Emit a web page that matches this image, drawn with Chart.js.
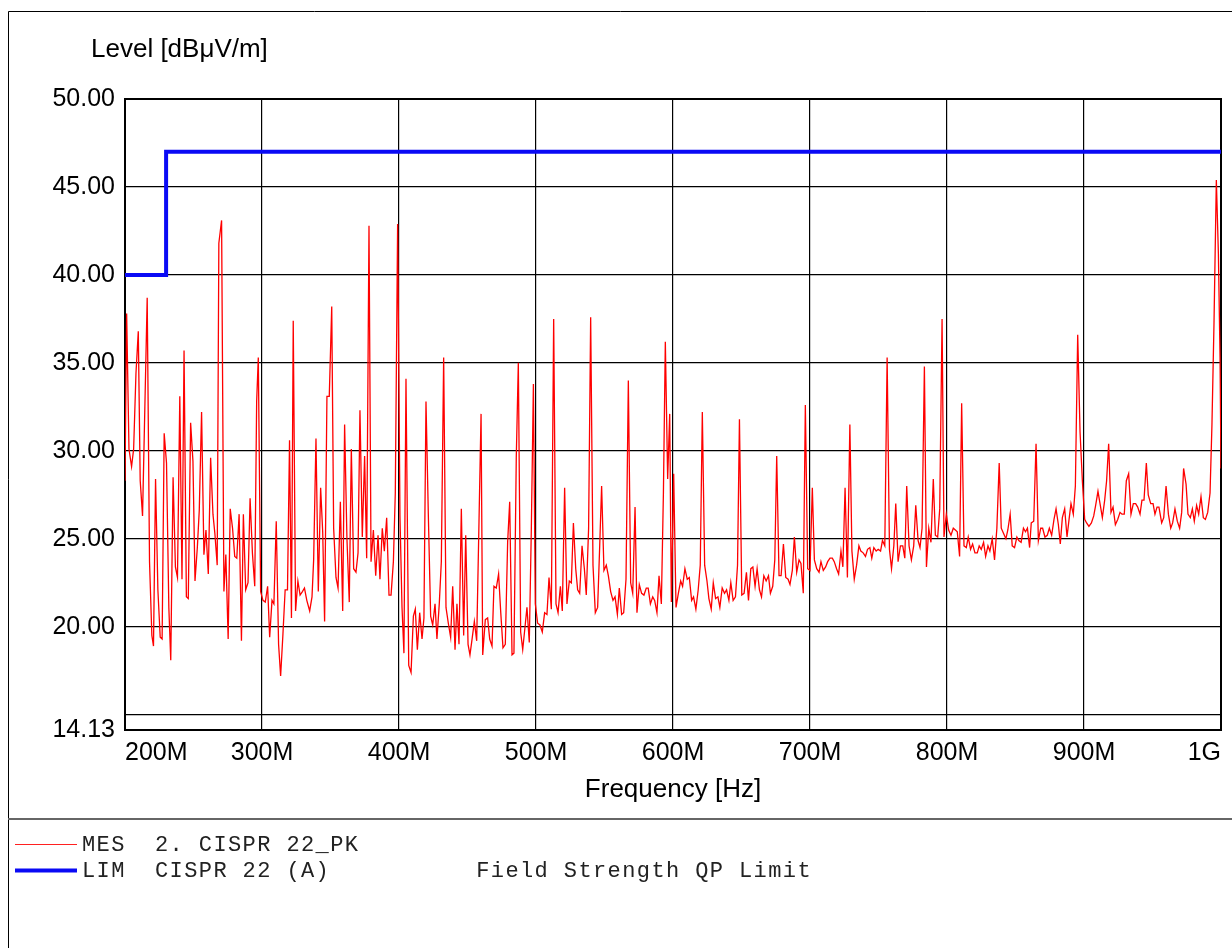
<!DOCTYPE html>
<html>
<head>
<meta charset="utf-8">
<script src="https://cdn.jsdelivr.net/npm/chart.js@4/dist/chart.umd.min.js"></script>
<style>
  html, body { margin: 0; padding: 0; background: #fff; }
  canvas { display: block; }
</style>
</head>
<body>
<canvas id="emc" width="1232" height="948"></canvas>
<script>
// measured trace (MES 2. CISPR 22_PK), MHz / dBuV/m
const freqMHz = [
  200.0,201.2,202.9,204.8,206.3,208.0,209.7,211.1,212.8,214.5,216.2,217.9,219.6,220.8,222.3,224.0,225.7,227.1,228.6,230.3,
  232.0,233.4,235.1,236.8,238.3,240.0,241.6,243.1,244.8,246.2,247.9,249.6,251.1,252.8,254.2,255.9,257.6,259.1,260.8,262.5,
  264.2,265.6,267.3,268.5,270.5,272.2,273.6,275.3,276.8,278.5,280.1,281.6,283.3,285.0,286.4,288.1,289.8,291.3,293.0,294.7,
  296.1,297.3,299.0,300.7,302.4,304.1,305.6,307.3,308.7,310.4,312.1,313.6,315.3,316.9,318.6,320.1,321.5,322.8,324.5,326.2,
  327.8,329.5,331.0,332.7,334.8,336.5,337.7,339.4,341.1,342.8,344.3,345.7,347.4,349.1,350.9,352.3,354.0,355.5,357.2,358.9,
  360.3,362.0,363.7,365.2,366.9,368.6,370.1,371.5,373.2,374.9,376.4,378.1,379.6,381.3,383.0,384.7,386.1,387.8,389.3,391.0,
  392.7,394.2,395.9,397.3,399.0,400.7,402.2,403.6,405.1,407.1,408.8,410.5,411.9,413.4,415.1,416.8,418.2,419.7,421.4,423.1,
  424.6,426.3,427.7,429.4,430.9,432.6,434.3,436.0,437.7,439.2,440.9,442.3,443.8,445.5,447.2,448.7,450.4,451.8,453.5,455.0,
  456.7,458.4,459.9,461.1,463.0,464.7,466.2,467.9,469.3,471.0,472.7,474.2,475.9,477.6,479.3,480.8,482.5,483.9,485.6,487.1,
  488.8,490.3,492.0,493.4,495.1,496.6,498.1,499.5,501.2,502.9,504.6,506.3,508.0,509.5,511.2,512.9,514.6,516.1,517.8,519.2,
  520.9,522.6,524.3,525.8,527.3,529.0,530.4,531.9,533.6,535.3,536.7,538.4,539.9,541.6,543.3,545.0,546.5,547.9,549.6,551.3,
  552.8,554.5,556.2,557.7,559.4,560.8,562.5,564.0,565.7,567.4,569.1,570.6,572.3,573.7,575.4,577.1,578.8,580.5,581.9,583.5,
  585.2,586.6,588.3,589.8,591.5,593.0,594.4,596.1,597.6,598.8,600.5,602.2,603.9,605.6,607.0,608.7,610.4,611.9,613.6,615.0,
  616.7,618.4,619.9,621.4,623.1,624.8,626.2,627.9,629.4,631.1,632.8,634.2,635.9,637.6,639.1,640.8,642.2,643.9,645.6,647.1,
  648.5,650.2,651.9,653.6,655.1,656.8,658.3,659.9,661.4,663.1,664.6,666.3,668.0,669.7,671.1,672.8,674.3,675.7,677.4,678.9,
  680.6,682.3,684.0,685.4,687.1,688.6,690.3,692.0,693.4,695.1,696.6,698.3,700.0,701.7,703.2,704.9,706.6,708.0,709.7,711.4,
  712.9,714.6,716.3,717.7,719.4,720.9,722.6,724.0,725.6,727.3,729.1,730.6,732.3,734.0,735.7,737.1,738.8,740.5,742.0,743.7,
  745.1,746.6,748.3,749.8,751.5,752.9,754.6,756.3,758.0,759.5,761.2,762.6,764.3,766.0,767.7,769.2,770.6,772.3,774.0,775.7,
  777.2,778.9,780.3,781.8,783.5,785.0,786.7,788.3,790.0,791.5,793.2,794.7,796.4,797.8,799.5,801.2,802.9,804.6,806.1,807.5,
  809.2,810.7,812.4,814.1,815.5,817.2,818.7,820.4,822.1,823.5,825.0,826.7,828.2,829.9,831.3,833.0,834.7,836.4,838.1,839.6,
  841.3,843.0,844.4,846.1,847.6,849.3,851.0,852.4,854.1,855.8,857.3,858.7,860.3,861.5,863.3,865.0,866.7,868.4,869.8,871.5,
  873.2,874.7,876.4,878.1,879.6,881.3,882.7,884.2,885.9,887.6,889.1,890.5,892.2,893.7,895.4,897.1,898.8,900.5,901.9,903.6,
  905.4,907.1,908.5,910.2,911.7,913.4,915.1,916.5,918.0,919.7,921.2,922.9,924.6,926.3,927.7,929.4,930.9,932.6,934.3,936.0,
  937.7,939.2,940.9,942.3,943.8,945.5,946.9,948.7,950.4,951.8,953.3,954.7,956.7,958.2,959.9,961.6,963.3,964.7,966.4,968.1,
  969.8,971.3,972.7,974.5,975.9,977.6,979.1,980.5,982.2,983.7,985.4,987.1,988.6,990.3,992.0,993.4,994.9,996.6,998.1,999.3,
  1000.0
];
const levelDb = [
  28.3,37.8,30.1,29.1,30.1,34.4,36.8,28.3,26.3,32.5,38.7,23.7,19.5,18.9,28.4,22.1,19.4,19.3,31.0,29.3,
  21.1,18.1,28.5,23.4,22.8,33.1,22.7,35.7,21.7,21.6,31.6,29.4,22.6,24.5,26.6,32.2,24.1,25.5,23.0,29.6,
  26.4,25.3,23.5,41.8,43.1,22.0,24.1,19.3,26.7,25.6,24.0,23.9,26.4,19.2,26.4,22.1,22.5,27.3,24.2,22.3,
  32.8,35.3,22.0,21.5,21.4,22.3,19.4,21.5,21.3,26.0,19.0,17.2,19.6,22.1,22.1,30.6,20.5,37.4,20.9,22.6,
  21.8,22.0,22.2,21.5,20.9,21.7,23.8,30.7,22.0,27.9,25.4,20.3,33.1,33.1,38.2,25.6,22.8,22.2,27.1,20.9,
  31.5,25.0,21.4,30.1,23.3,23.1,24.2,32.3,25.1,29.7,23.9,42.8,23.7,25.5,22.9,25.2,22.7,25.6,24.3,26.2,
  21.8,21.8,23.7,27.6,42.9,26.3,21.1,18.5,34.1,17.8,17.4,20.6,21.0,18.7,20.8,19.3,20.5,32.8,26.4,20.6,
  20.1,21.3,19.3,21.3,23.7,35.3,21.1,20.2,19.4,22.3,18.7,21.3,19.0,26.7,19.5,25.2,19.0,18.4,19.4,20.3,
  19.2,26.0,32.1,18.4,20.4,20.5,19.3,18.9,22.3,22.2,23.0,20.9,18.8,19.0,24.8,27.1,18.4,18.5,29.6,35.0,
  19.7,18.7,20.0,21.1,19.1,25.6,33.8,21.3,20.2,20.1,19.7,20.8,20.7,22.8,21.0,37.5,21.3,20.8,22.3,20.9,
  27.9,21.3,22.6,22.5,25.9,23.3,22.1,21.9,24.6,23.3,21.8,25.6,37.6,23.5,20.8,21.1,24.6,28.0,23.2,23.5,
  22.9,22.0,21.5,21.7,20.7,22.2,20.7,20.8,22.7,34.0,22.5,21.9,26.8,20.8,22.4,21.9,21.8,22.2,22.2,21.3,
  21.7,21.5,20.8,22.9,21.3,27.6,36.2,28.4,32.1,21.4,28.7,21.1,21.9,22.6,22.3,23.3,22.7,22.8,21.5,21.7,
  21.0,22.1,23.5,32.2,23.5,22.6,21.6,21.0,22.5,21.6,21.7,21.1,22.2,21.9,22.1,21.5,22.5,21.5,21.7,23.5,
  31.8,21.8,21.9,23.1,21.5,23.3,23.4,22.3,23.3,22.1,21.7,22.9,22.6,22.9,21.9,22.3,23.8,29.7,22.9,22.9,
  24.7,22.8,22.7,22.4,23.2,25.1,23.1,23.8,23.6,21.9,32.6,23.3,23.2,27.9,23.8,23.3,23.1,23.7,23.2,23.4,
  23.7,23.9,23.9,23.7,23.3,23.0,24.3,23.4,27.9,22.8,31.5,24.3,22.7,23.5,24.6,24.3,24.2,24.0,24.4,24.5,
  23.9,24.5,24.3,24.4,24.3,24.9,24.6,35.3,24.4,23.3,24.6,27.0,23.7,24.6,24.6,23.9,28.0,24.6,23.8,24.6,
  26.9,24.9,24.5,25.6,34.8,23.4,25.6,24.8,28.4,25.2,25.1,26.7,37.5,25.1,26.4,25.5,25.2,25.6,25.5,25.4,
  24.0,32.7,24.6,24.5,25.1,24.4,24.7,24.2,24.2,24.6,24.4,24.8,24.0,24.6,24.3,25.0,23.8,25.6,29.3,25.6,
  25.3,25.0,25.5,26.4,24.6,24.5,25.1,24.9,24.8,25.6,25.4,25.6,24.5,25.9,26.0,30.4,24.9,25.6,25.6,25.1,
  25.2,25.6,25.2,26.1,26.7,25.8,24.7,26.2,26.7,25.1,26.1,27.0,26.4,28.0,36.6,31.1,28.3,26.1,25.9,25.7,
  25.9,26.3,26.9,27.7,27.0,26.2,27.2,28.3,30.4,26.5,26.8,25.8,26.1,26.5,26.4,26.4,28.3,28.7,26.4,27.0,
  27.0,26.8,26.4,27.2,27.2,29.3,27.5,27.0,27.0,26.4,26.8,26.8,25.9,26.2,28.0,26.4,25.6,25.9,26.7,26.0,
  25.6,26.5,29.0,28.1,26.4,26.2,26.7,26.0,26.9,26.4,27.4,26.2,26.1,26.5,27.6,31.5,37.3,45.4,41.2,35.3,
  29.0
];

// limit line (LIM CISPR 22 (A)), step at 230 MHz
const limitFreq = [200, 230, 230, 1000];
const limitLevel = [40, 40, 47, 47];

// axes
const xTickValues = [200, 300, 400, 500, 600, 700, 800, 900, 1000];
const xTickLabels = ['200M', '300M', '400M', '500M', '600M', '700M', '800M', '900M', '1G'];
const yTickValues = [14.13, 15, 20, 25, 30, 35, 40, 45, 50];
const yTickLabels = ['14.13', '', '20.00', '25.00', '30.00', '35.00', '40.00', '45.00', '50.00'];

const legendRows = [
  { color: '#ff2020', width: 1.2, text: 'MES  2. CISPR 22_PK' },
  { color: '#0a0af5', width: 4, text: 'LIM  CISPR 22 (A)          Field Strength QP Limit' }
];

const SANS = '"Liberation Sans", Arial, sans-serif';
const MONO = '"Liberation Mono", "DejaVu Sans Mono", monospace';

const decor = {
  id: 'decor',
  beforeDraw(chart) {
    const { ctx, width, height } = chart;
    ctx.save();
    ctx.fillStyle = '#fff';
    ctx.fillRect(0, 0, width, height);
    // outer frame + divider above the legend block
    ctx.strokeStyle = '#000';
    ctx.lineWidth = 1;
    ctx.beginPath();
    ctx.moveTo(8.5, height);
    ctx.lineTo(8.5, 11.5);
    ctx.lineTo(width, 11.5);
    ctx.stroke();
    ctx.strokeStyle = '#666';
    ctx.lineWidth = 2;
    ctx.beginPath();
    ctx.moveTo(8, 819);
    ctx.lineTo(width, 819);
    ctx.stroke();
    ctx.restore();
  },
  beforeDatasetsDraw(chart) {
    const { ctx, chartArea: a } = chart;
    ctx.save();
    ctx.strokeStyle = '#000';
    ctx.lineWidth = 2;
    ctx.strokeRect(a.left, a.top, a.right - a.left, a.bottom - a.top);
    ctx.restore();
  },
  afterDraw(chart) {
    const { ctx, chartArea: a } = chart;
    ctx.save();
    ctx.fillStyle = '#000';
    ctx.font = '26px ' + SANS;
    ctx.textBaseline = 'alphabetic';
    ctx.textAlign = 'left';
    ctx.fillText('Level [dBμV/m]', a.left - 34, a.top - 42);
    ctx.textAlign = 'center';
    ctx.fillText('Frequency [Hz]', (a.left + a.right) / 2, a.bottom + 67);

    // legend block
    ctx.font = '22px ' + MONO;
    ctx.textAlign = 'left';
    ctx.textBaseline = 'middle';
    const pitch = 14.6;
    legendRows.forEach((row, i) => {
      const y = 845 + i * 26;
      ctx.strokeStyle = row.color;
      ctx.lineWidth = row.width;
      ctx.beginPath();
      ctx.moveTo(15, y - 0.5);
      ctx.lineTo(77, y - 0.5);
      ctx.stroke();
      ctx.fillStyle = '#222';
      [...row.text].forEach((ch, k) => ctx.fillText(ch, 82 + k * pitch, y));
    });
    ctx.restore();
  }
};

new Chart(document.getElementById('emc'), {
  type: 'line',
  data: {
    datasets: [
      {
        label: 'MES 2. CISPR 22_PK',
        data: freqMHz.map((f, i) => ({ x: f, y: levelDb[i] })),
        borderColor: '#ff0000',
        borderWidth: 1.3,
        pointRadius: 0,
        tension: 0
      },
      {
        label: 'LIM CISPR 22 (A)',
        data: limitFreq.map((f, i) => ({ x: f, y: limitLevel[i] })),
        borderColor: '#0a0af5',
        borderWidth: 4,
        pointRadius: 0,
        tension: 0
      }
    ]
  },
  options: {
    responsive: false,
    animation: false,
    devicePixelRatio: 1,
    layout: { padding: { top: 99, right: 11, bottom: 130, left: 0 } },
    plugins: { legend: { display: false }, tooltip: { enabled: false } },
    scales: {
      x: {
        type: 'linear',
        min: 200,
        max: 1000,
        afterBuildTicks: s => { s.ticks = xTickValues.map(v => ({ value: v })); },
        afterFit: s => { s.height = 88; },
        grid: { color: '#000', lineWidth: 1.2, drawTicks: false },
        border: { color: '#000', width: 2 },
        ticks: {
          align: 'inner',
          maxRotation: 0,
          autoSkip: false,
          padding: 8,
          color: '#000',
          font: { family: SANS, size: 25 },
          callback: (v, i) => xTickLabels[i]
        }
      },
      y: {
        type: 'linear',
        min: 14.13,
        max: 50,
        afterBuildTicks: s => { s.ticks = yTickValues.map(v => ({ value: v })); },
        afterFit: s => { s.width = 125; },
        grid: { color: '#000', lineWidth: 1.2, drawTicks: false },
        border: { color: '#000', width: 2 },
        ticks: {
          padding: 10,
          color: '#000',
          font: { family: SANS, size: 25 },
          callback: (v, i) => yTickLabels[i]
        }
      }
    }
  },
  plugins: [decor]
});
</script>
</body>
</html>
